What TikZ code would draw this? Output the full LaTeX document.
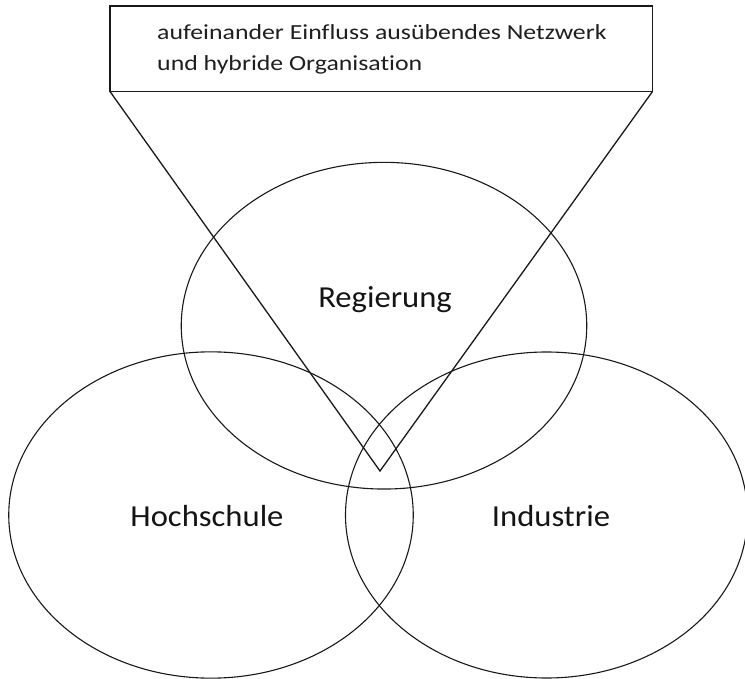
\documentclass[tikz,border=0pt]{standalone}
\usepackage{fontspec}
\setmainfont{Carlito}[Ligatures=NoCommon]
\usetikzlibrary{shapes.geometric}
\begin{document}
\begin{tikzpicture}[x=1pt,y=-1pt,
  ring/.style={draw=black!90, line width=1.1pt, ellipse, inner sep=0pt, outer sep=0pt},
  callout/.style={draw=black!90, line width=1.3pt, rectangle, inner sep=0pt, outer sep=0pt},
  pointer/.style={draw=black!90, line width=1.3pt, line join=miter},
  boxtext/.style={inner sep=0pt, anchor=base west, xscale=1.2, font=\fontsize{21.5}{26}\selectfont, text=black!88},
  label/.style={inner sep=0pt, anchor=base, xscale=1.07, font=\fontsize{30.5}{36}\selectfont, text=black!92}]
\useasboundingbox[fill=white] (0,0) rectangle (745,679);
% callout box
\node[callout, minimum width=542.5pt, minimum height=85.5pt] (box) at (381.25,48.75) {};
\node[boxtext] (t1) at (157,40) {aufeinander Einfluss ausübendes Netzwerk};
\node[boxtext] (t2) at (157,70.5) {und hybride Organisation};
\coordinate (apex) at (380,471);
\draw[pointer] (box.south west) -- (apex) -- (box.south east);
% circles
\node[ring, minimum width=405.5pt, minimum height=326.7pt] (reg) at (384,325.7) {};
\node[ring, minimum width=404.5pt, minimum height=326.3pt] (hoch) at (211,515) {};
\node[ring, minimum width=402pt, minimum height=326pt] (ind) at (546.5,515) {};
% labels
\node[label] (lreg) at (385,308) {Regierung};
\node[label] (lhoch) at (207,526) {Hochschule};
\node[label] (lind) at (551,526) {Industrie};
\end{tikzpicture}
\end{document}
